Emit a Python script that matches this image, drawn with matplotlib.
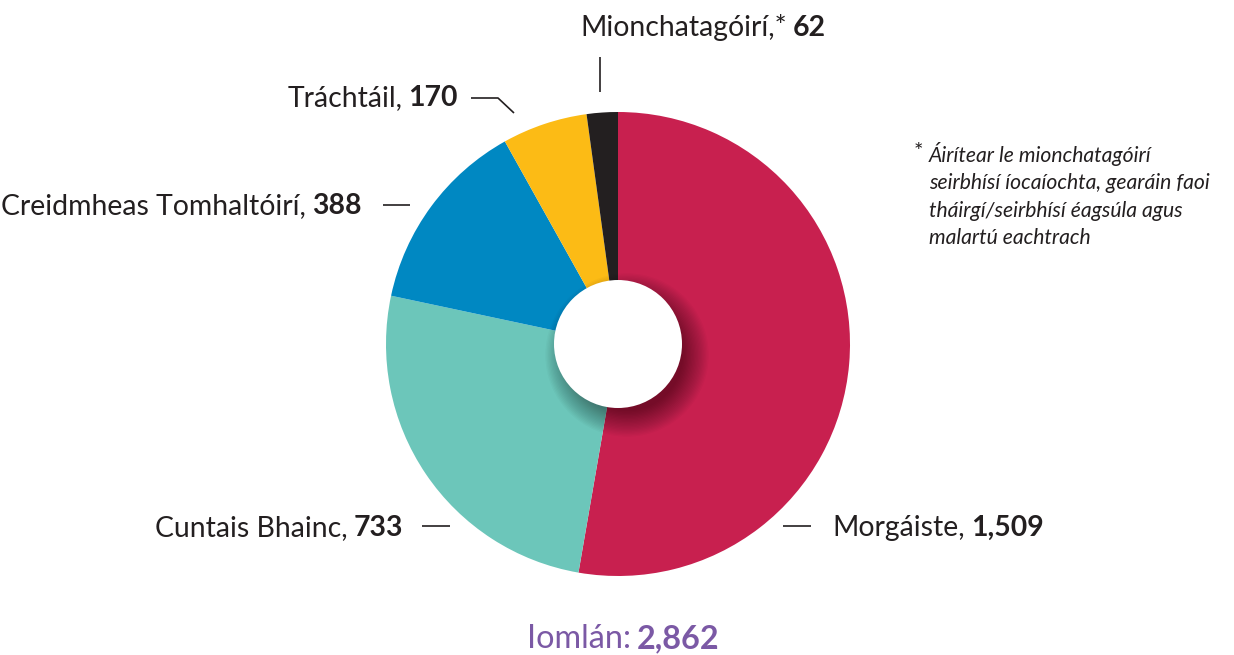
import matplotlib
matplotlib.use("Agg")
import matplotlib.pyplot as plt
from matplotlib.patches import Circle

# ---- data ----
categories = ["Morgáiste", "Cuntais Bhainc", "Creidmheas Tomhaltóirí", "Tráchtáil", "Mionchatagóirí,*"]
values = [1509, 733, 388, 170, 62]
colors = ["#C8204F", "#6CC6BA", "#0088C2", "#FCBB15", "#231F20"]
total_label = "Iomlán:"
footnote_lines = ["Áirítear le mionchatagóirí",
                  "seirbhísí íocaíochta, gearáin faoi",
                  "tháirgí/seirbhísí éagsúla agus",
                  "malartú eachtrach"]

W, H = 1234, 655
TXT = "#231F20"
PURPLE = "#7B59A5"
FONT = "Lato"
FS = 20.4
BOLDW = "bold"

fig = plt.figure(figsize=(W / 100, H / 100), dpi=100)
ax = fig.add_axes([0, 0, 1, 1])

def Y(py):
    return H - py

cx, cy, R, r_hole = 618, Y(344), 232, 64

wedges, _ = ax.pie(values, colors=colors, startangle=90, counterclock=False,
                   center=(cx, cy), radius=R, wedgeprops=dict(linewidth=0))

# shadow of the hole
n = 20
for i in range(n):
    ax.add_patch(Circle((cx + 9, cy - 11), r_hole - 8 + i * 1.35, facecolor="black",
                        edgecolor="none", alpha=0.024, zorder=3))
ax.add_patch(Circle((cx, cy), r_hole, facecolor="white", edgecolor="none", zorder=4))

ax.set_xlim(0, W)
ax.set_ylim(0, H)
ax.set_aspect("equal")
ax.axis("off")

def label_right(xr, yb, reg, bold):
    b = ax.text(xr, Y(yb), bold, ha="right", va="baseline", fontsize=FS,
                fontweight=BOLDW, family=FONT, color=TXT)
    ax.annotate(reg, xy=(0, Y(yb)), xycoords=(b, "data"), xytext=(-4.5, 0),
                textcoords="offset points", ha="right", va="baseline",
                fontsize=FS, family=FONT, color=TXT)

def label_left(xl, yb, reg, bold, color=TXT, fs=FS):
    t = ax.text(xl, Y(yb), reg, ha="left", va="baseline", fontsize=fs,
                family=FONT, color=color)
    ax.annotate(bold, xy=(1, Y(yb)), xycoords=(t, "data"), xytext=(4.5, 0),
                textcoords="offset points", ha="left", va="baseline",
                fontsize=fs, fontweight=BOLDW, family=FONT, color=color)

vals = [f"{v:,}" for v in values]

label_left(832, 536, categories[0] + ",", vals[0])
label_right(403, 536, categories[1] + ",", vals[1])
label_right(362, 214, categories[2] + ",", vals[2])
label_right(458, 106, categories[3] + ",", vals[3])
label_left(580, 36, categories[4], vals[4])

lk = dict(color=TXT, lw=1.2, solid_capstyle="butt")
ax.plot([783, 811], [Y(526), Y(526)], **lk)
ax.plot([422, 450], [Y(526), Y(526)], **lk)
ax.plot([383, 410], [Y(205), Y(205)], **lk)
ax.plot([471, 498, 514], [Y(98), Y(98), Y(113)], **lk)
ax.plot([600, 600], [Y(57), Y(92)], **lk)

# total
label_left(527, 648, total_label, f"{sum(values):,}", color=PURPLE, fs=23.3)

# footnote
ax.text(914, Y(158), "*", ha="left", va="baseline", fontsize=16, family=FONT, color=TXT)
for i, line in enumerate(footnote_lines):
    ax.text(929, Y(162 + i * 27.3), line, ha="left", va="baseline", fontsize=15.2,
            family=FONT, style="italic", color=TXT)

fig.savefig("out.png", dpi=100)
